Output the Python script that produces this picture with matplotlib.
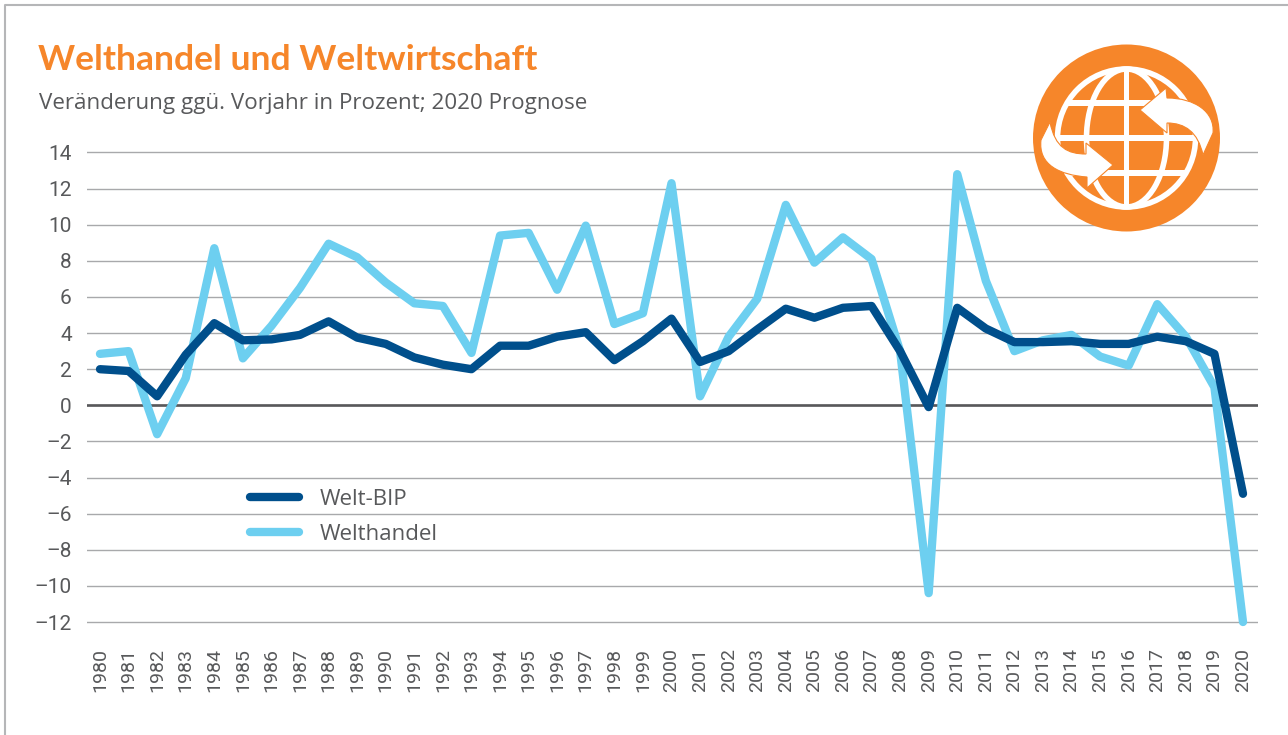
import matplotlib
matplotlib.use('Agg')
import matplotlib.pyplot as plt
from matplotlib.patches import Circle, Ellipse, PathPatch, Rectangle
from matplotlib.path import Path

years = list(range(1980, 2021))
welt_bip = [2.0, 1.9, 0.5, 2.8, 4.55, 3.6, 3.65, 3.9, 4.65, 3.75, 3.4, 2.65, 2.25, 2.0,
            3.3, 3.3, 3.8, 4.05, 2.5, 3.55, 4.8, 2.4, 3.0, 4.2, 5.35, 4.85, 5.4, 5.5,
            3.0, -0.1, 5.4, 4.25, 3.5, 3.5, 3.55, 3.4, 3.4, 3.8, 3.55, 2.85, -4.9]
welthandel = [2.85, 3.0, -1.6, 1.5, 8.7, 2.6, 4.4, 6.5, 8.95, 8.2, 6.8, 5.65, 5.5, 2.9,
              9.4, 9.55, 6.4, 9.95, 4.5, 5.1, 12.3, 0.5, 3.8, 5.9, 11.1, 7.9, 9.3, 8.1,
              3.0, -10.4, 12.8, 6.9, 3.0, 3.6, 3.9, 2.7, 2.2, 5.6, 3.8, 1.0, -12.0]
y_ticks = list(range(-12, 16, 2))

W, H = 1288, 735
GREY = '#58595b'
ORANGE = '#f6862a'
DARK = '#004f8c'
LIGHT = '#6dcff0'

fig = plt.figure(figsize=(W / 100, H / 100), dpi=100)

# axes placed by pixels: gridlines run 87..1258, 14 at y=152.5, -12 at y=622
per_year = (1243 - 100) / 40
per_unit = (622 - 152.5) / 26
ax = fig.add_axes([87 / W, 1 - 640 / H, (1258 - 87) / W, (640 - 140) / H])
ax.set_xlim(1980 - 13 / per_year, 1980 + (1258 - 100) / per_year)
ax.set_ylim(-12 - 18 / per_unit, 14 + 12.5 / per_unit)

ax.set_yticks(y_ticks)
ax.set_yticklabels([str(v).replace('-', '\u2013') for v in y_ticks],
                   family='Roboto', fontsize=15, color=GREY)
ax.set_xticks(years)
ax.set_xticklabels(years, rotation=90, family='Roboto', fontsize=14, color=GREY)
ax.tick_params(axis='both', length=0)
ax.tick_params(axis='y', pad=11)
ax.tick_params(axis='x', pad=6)
for s in ax.spines.values():
    s.set_visible(False)
ax.set_axisbelow(True)
ax.grid(axis='y', color='#a8a9ab', linewidth=1.0)
ax.axhline(0, color='#58585a', linewidth=1.9, zorder=1.5)

ax.plot(years, welthandel, color=LIGHT, linewidth=6, solid_joinstyle='round', solid_capstyle='round',
        label='Welthandel', clip_on=False, zorder=2)
ax.plot(years, welt_bip, color=DARK, linewidth=6, solid_joinstyle='round', solid_capstyle='round',
        label='Welt-BIP', clip_on=False, zorder=3)

handles, labels = ax.get_legend_handles_labels()
leg = ax.legend(handles[::-1], labels[::-1], loc='upper left', frameon=False,
                bbox_to_anchor=((250 - 87) / (1258 - 87), 1 - (489 - 140) / 500),
                borderaxespad=0, borderpad=0, handlelength=2.2, handletextpad=0.95,
                labelspacing=0.63, prop={'family': 'Open Sans', 'size': 16})
for t in leg.get_texts():
    t.set_color(GREY)

# overlay in pixel coordinates for frame, title and icon
ov = fig.add_axes([0, 0, 1, 1], zorder=5)
ov.set_xlim(0, W)
ov.set_ylim(H, 0)
ov.axis('off')
ov.patch.set_alpha(0)

ov.plot([5, 5, W], [H, 5, 5], color='#b5b6b8', linewidth=1.5)
ov.text(38, 70, 'Welthandel und Weltwirtschaft', family='Lato', fontweight='bold',
        fontsize=25.5, color=ORANGE, va='baseline')
ov.text(39, 109, 'Veränderung ggü. Vorjahr in Prozent; 2020 Prognose', family='Open Sans',
        fontsize=16.1, color=GREY, va='baseline')

# globe icon
cx, cy = 1126.5, 138
ov.add_patch(Circle((cx, cy), 93.5, fc=ORANGE, ec='none'))
ov.add_patch(Circle((cx, cy), 69, fc='none', ec='white', lw=4))
ov.add_patch(Ellipse((cx, cy), 80, 138, fc='none', ec='white', lw=4))
globe_clip = Circle((cx, cy), 69, transform=ov.transData)
for yy in [103, 138, 173]:
    r = Rectangle((cx - 72, yy - 2.7), 144, 5.4, fc='white', ec='none')
    ov.add_patch(r)
    r.set_clip_path(globe_clip)
ov.add_patch(Rectangle((cx - 2.7, cy - 69), 5.4, 138, fc='white', ec='none'))

C4 = Path.CURVE4
arrow_codes = [Path.MOVETO, C4, C4, C4, Path.LINETO, Path.LINETO, Path.LINETO, Path.LINETO, C4, C4, C4, Path.CLOSEPOLY]
arrow_left = [(1050, 122), (1055, 148), (1068, 154), (1086, 154), (1086, 143), (1113, 165), (1087, 188),
              (1087, 177), (1060, 175), (1038, 165), (1041, 140), (1050, 122)]
arrow_right = [(1203, 155), (1198, 132), (1185, 123), (1167, 123), (1167, 133), (1140, 110), (1166, 88),
               (1167, 98), (1195, 98), (1215, 112), (1213, 133), (1203, 155)]
for pts in (arrow_left, arrow_right):
    ov.add_patch(PathPatch(Path(pts, arrow_codes), fc='white', ec=ORANGE, lw=0.8, zorder=4))

fig.savefig('out.png', dpi=100)
